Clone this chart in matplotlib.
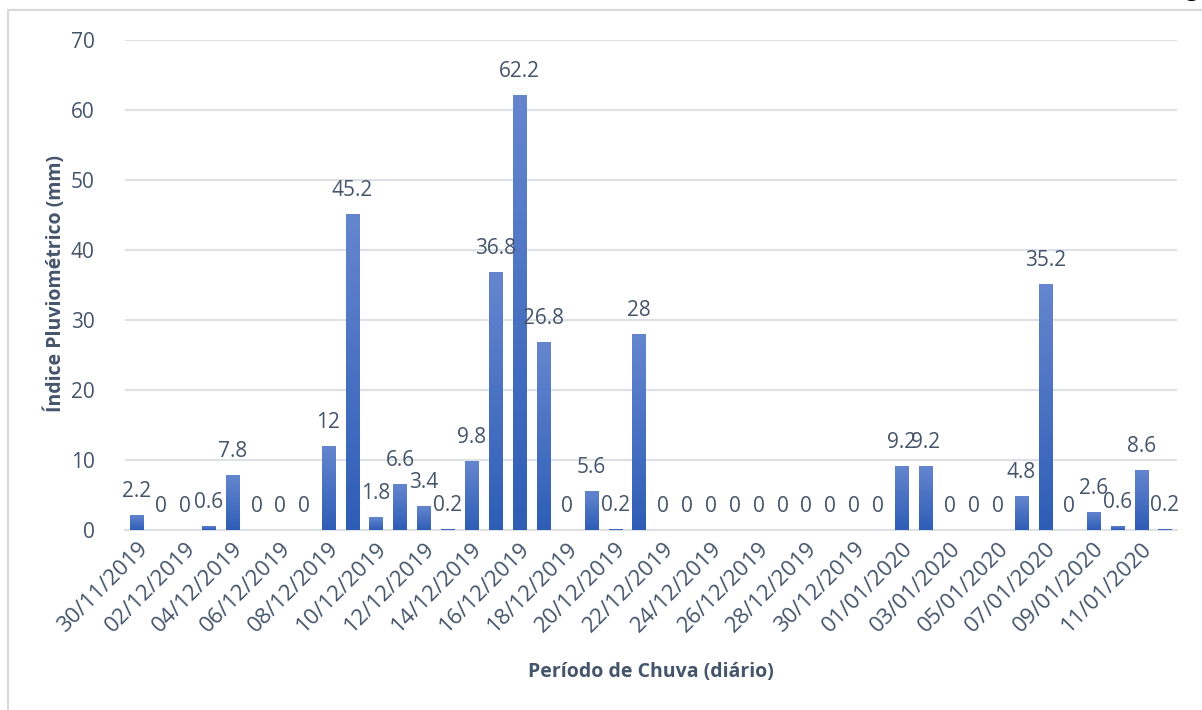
import numpy as np
import matplotlib.pyplot as plt
from matplotlib.colors import LinearSegmentedColormap
from matplotlib.patches import Rectangle
from datetime import date, timedelta

plt.rcParams['font.family'] = ['Open Sans', 'DejaVu Sans']

start = date(2019, 11, 30)
chuva = [2.2, 0, 0, 0.6, 7.8, 0, 0, 0, 12, 45.2, 1.8, 6.6, 3.4, 0.2, 9.8,
         36.8, 62.2, 26.8, 0, 5.6, 0.2, 28, 0, 0, 0, 0, 0, 0, 0, 0, 0, 0,
         9.2, 9.2, 0, 0, 0, 4.8, 35.2, 0, 2.6, 0.6, 8.6, 0.2]
datas = [(start + timedelta(days=i)).strftime('%d/%m/%Y') for i in range(len(chuva))]
yticks = [0, 10, 20, 30, 40, 50, 60, 70]

txt = '#44546A'
grid = '#DDE1E6'

W, H = 1202, 710
fig = plt.figure(figsize=(W / 100, H / 100), dpi=100)
ax = fig.add_axes([125 / W, (H - 530) / H, (1177 - 125) / W, 490 / H])

x = np.arange(len(chuva))
bars = ax.bar(x, chuva, width=0.55, color='#4472C4', zorder=2)

# gradiente vertical em cada barra (claro em cima, escuro embaixo)
cmap = LinearSegmentedColormap.from_list('azul', ['#2E5DB6', '#6586CF'])
grad = np.linspace(0, 1, 256).reshape(-1, 1)
for b in bars:
    h = b.get_height()
    if h <= 0:
        continue
    x0 = b.get_x()
    im = ax.imshow(grad, extent=[x0, x0 + b.get_width(), 0, h], origin='lower',
                   aspect='auto', cmap=cmap, zorder=3)
    im.set_clip_path(b)

for xi, v in zip(x, chuva):
    ax.annotate(f'{v:g}', (xi, v), xytext=(0, 13), textcoords='offset points',
                ha='center', va='baseline', fontsize=15, color=txt, zorder=4)

ax.set_xlim(-0.5, len(chuva) - 0.5)
ax.set_ylim(0, 70)
ax.set_yticks(yticks)
ax.yaxis.grid(True, color=grid, linewidth=1.5, zorder=0)
ax.set_axisbelow(True)
for s in ['top', 'right', 'left']:
    ax.spines[s].set_visible(False)
ax.spines['bottom'].set_color(grid)
ax.spines['bottom'].set_linewidth(1.5)
ax.tick_params(axis='both', length=0, labelsize=15, colors=txt)
ax.tick_params(axis='y', pad=22)

ax.set_xticks(x[::2])
ax.set_xticklabels(datas[::2], rotation=45, ha='right', va='top',
                   rotation_mode='anchor', fontsize=16)
ax.tick_params(axis='x', pad=6)

fig.text(651 / W, 1 - 672 / H, 'Período de Chuva (diário)', ha='center',
         va='center', fontsize=14, fontweight='bold', color=txt)
fig.text(55 / W, 1 - 283 / H, 'Índice Pluviométrico (mm)', ha='center',
         va='center', rotation=90, fontsize=14, fontweight='bold', color=txt)

# borda da área do gráfico
fig.patches.append(Rectangle((8 / W, -0.1), 1.2, 1 - 10 / H + 0.1,
                             transform=fig.transFigure, fill=False,
                             edgecolor='#D9D9D9', linewidth=1.5))
fig.text(1192 / W, 1 + 4 / H, 'g', ha='center', va='baseline', fontsize=16,
         color='black')

fig.savefig('out.png', dpi=100)
